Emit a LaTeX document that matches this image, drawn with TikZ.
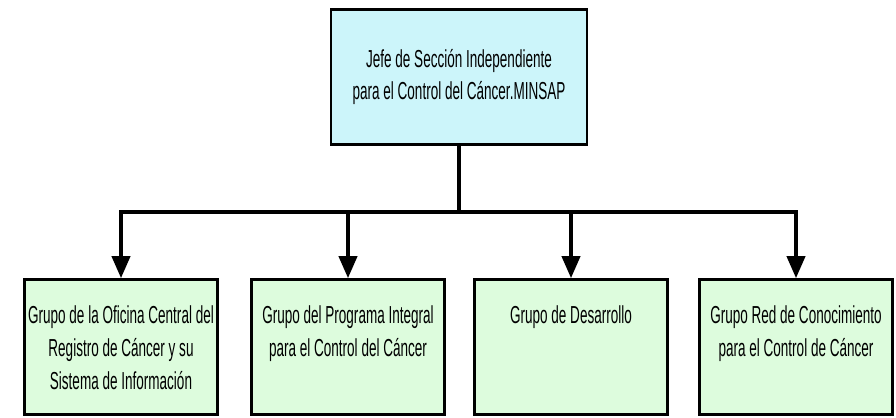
\documentclass[tikz,border=0pt]{standalone}
\usepackage{fontspec}
\setmainfont{Liberation Sans}[FakeStretch=0.55]
\usetikzlibrary{arrows.meta}
\definecolor{jefefill}{RGB}{204,245,250}
\definecolor{grupofill}{RGB}{221,252,221}
\begin{document}
\begin{tikzpicture}
  [x=0.02cm,y=-0.02cm,
   every node/.style={draw=black,line width=1.5pt,font=\fontsize{14}{18.7}\selectfont,inner sep=0pt},
   jefe/.style={fill=jefefill,align=center,minimum width=5.12cm,minimum height=2.7cm},
   grupo/.style={fill=grupofill,minimum width=3.86cm,minimum height=2.7cm,
     execute at begin node={\begin{minipage}[c][2.7cm][t]{3.8cm}\centering\vspace*{0.52cm}},
     execute at end node={\end{minipage}}},
   conn/.style={line width=2.2pt,line join=miter}]
\useasboundingbox (0,0) rectangle (896,417);
\node (jefe)[jefe] at (459,77) {Jefe de Sección Independiente\\para el Control del Cáncer.MINSAP};
\node (g1)[grupo] at (121,347) {Grupo de la Oficina Central del\\Registro de Cáncer y su\\Sistema de Información};
\node (g2)[grupo] at (348,347) {Grupo del Programa Integral\\para el Control del Cáncer};
\node (g3)[grupo] at (571,347) {Grupo de Desarrollo};
\node (g4)[grupo] at (796,347) {Grupo Red de Conocimiento\\para el Control de Cáncer};
\coordinate (bus) at (459,212);
\draw[conn] (jefe) -- (bus);
 \foreach \to in {g1,g2,g3,g4}
    \draw[conn,-{Triangle[width=0.36cm,length=0.44cm]}] (bus) -| (\to.north);

\end{tikzpicture}
\end{document}
